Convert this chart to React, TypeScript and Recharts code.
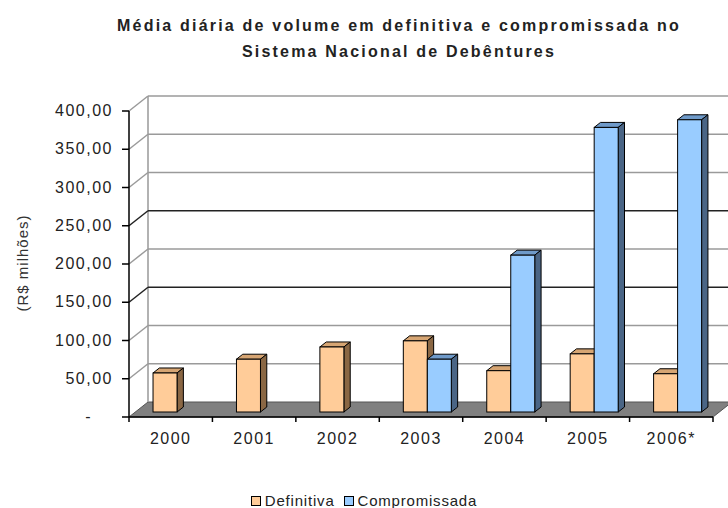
import React from 'react';
import { BarChart, Bar, XAxis, YAxis, CartesianGrid } from 'recharts';

const years = ['2000', '2001', '2002', '2003', '2004', '2005', '2006*'];
const definitiva = [51, 69, 85, 93, 54, 76, 50];
const compromissada = [null, null, null, 69, 205, 372, 382];
const yTicks = [0, 50, 100, 150, 200, 250, 300, 350, 400];
const darkLines = [150, 250];

const data = years.map((ano, i) => ({ ano, definitiva: definitiva[i], compromissada: compromissada[i] }));

// layout of the 3D box
const W = 728;
const H = 508;
const LEFT = 129;
const RIGHT = 713;
const TOP = 111;
const BOTTOM = 417;
const DX = 19; // wall depth
const DY = 15;
const BAND = (RIGHT - LEFT) / years.length;
const FONT = "'Liberation Sans', Arial, sans-serif";

const fmt = (v: number) => (v === 0 ? '-' : v.toFixed(2).replace('.', ','));

const colors = {
    definitiva: { front: '#FFCC99', top: '#D6A573', side: '#8A6744' },
    compromissada: { front: '#99CCFF', top: '#6F9AC9', side: '#4A6585' },
};

const Bar3D = (c: { front: string; top: string; side: string }) => (props: any) => {
    const { x, y, width, height } = props;
    if (height == null || isNaN(height)) return null;
    const d = DX / 3;
    const e = DY / 3;
    const x0 = x + d;
    const y0 = y - e;
    return (
        <g stroke="#000" strokeWidth={1}>
            <polygon points={`${x0},${y0} ${x0 + width},${y0} ${x0 + width + d},${y0 - e} ${x0 + d},${y0 - e}`} fill={c.top} />
            <polygon
                points={`${x0 + width},${y0} ${x0 + width + d},${y0 - e} ${x0 + width + d},${y0 + height - e} ${x0 + width},${y0 + height}`}
                fill={c.side}
            />
            <rect x={x0} y={y0} width={width} height={height} fill={c.front} />
        </g>
    );
};

const GridLine = (props: any) => {
    const { x1, x2, y1 } = props;
    const y = y1;
    if (Math.abs(y - BOTTOM) < 1) {
        // floor + left wall edge
        return (
            <g>
                <polygon points={`${x1},${y} ${x2},${y} ${x2 + DX},${y - DY} ${x1 + DX},${y - DY}`} fill="#808080" stroke="#555" strokeWidth={1} />
                <line x1={x1 + DX} y1={TOP - DY} x2={x1 + DX} y2={y - DY} stroke="#999" strokeWidth={1.5} />
            </g>
        );
    }
    const v = Math.round(((BOTTOM - y) / (BOTTOM - TOP)) * 400);
    const dark = darkLines.includes(v);
    const stroke = dark ? '#222' : '#9a9a9a';
    return (
        <g stroke={stroke} strokeWidth={1.5}>
            <line x1={x1} y1={y} x2={x1 + DX} y2={y - DY} />
            <line x1={x1 + DX} y1={y - DY} x2={x2 + DX} y2={y - DY} />
        </g>
    );
};

const YTick = (props: any) => {
    const { x, y, payload } = props;
    const v = payload.value;
    return (
        <text
            x={v === 0 ? x - 20 : x + 1}
            y={y}
            dy={5}
            textAnchor="end"
            fontSize={16}
            letterSpacing={1.5}
            fontFamily={FONT}
            fill="#222"
        >
            {fmt(v)}
        </text>
    );
};

const XTick = (props: any) => {
    const { x, y, payload } = props;
    const last = payload.value === years[years.length - 1];
    return (
        <g>
            <line x1={x - BAND / 2} y1={y} x2={x - BAND / 2} y2={y + 5} stroke="#000" strokeWidth={1.5} />
            {last && <line x1={x + BAND / 2} y1={y} x2={x + BAND / 2} y2={y + 5} stroke="#000" strokeWidth={1.5} />}
            <text x={x} y={y + 27} textAnchor="middle" fontSize={16} letterSpacing={1.5} fontFamily={FONT} fill="#222">
                {payload.value}
            </text>
        </g>
    );
};

export default function App() {
    return (
        <div style={{ position: 'absolute', left: 0, top: 0, width: W, height: H, background: '#fff', fontFamily: FONT }}>
            <div
                style={{
                    position: 'absolute',
                    left: 99,
                    width: 600,
                    top: 13,
                    textAlign: 'center',
                    fontSize: 16,
                    fontWeight: 'bold',
                    letterSpacing: 2.2,
                    lineHeight: '26px',
                    color: '#222',
                }}
            >
                Média diária de volume em definitiva e compromissada no
                <br />
                Sistema Nacional de Debêntures
            </div>
            <div
                style={{
                    position: 'absolute',
                    left: 22,
                    top: 263,
                    transform: 'translate(-50%, -50%) rotate(-90deg)',
                    fontSize: 15,
                    letterSpacing: 1,
                    color: '#333',
                    whiteSpace: 'nowrap',
                }}
            >
                (R$ milhões)
            </div>
            <BarChart
                width={W}
                height={H}
                data={data}
                margin={{ top: TOP, right: W - RIGHT, bottom: 0, left: 0 }}
                barCategoryGap={17.7}
                barGap={0}
            >
                <CartesianGrid vertical={false} horizontal={GridLine} />
                <XAxis
                    dataKey="ano"
                    height={H - BOTTOM}
                    tickLine={false}
                    tickSize={0}
                    tickMargin={0}
                    axisLine={{ stroke: '#000', strokeWidth: 1.5 }}
                    tick={XTick}
                    interval={0}
                />
                <YAxis
                    width={LEFT}
                    domain={[0, 400]}
                    ticks={yTicks}
                    tickSize={7}
                    tickMargin={10}
                    axisLine={{ stroke: '#000', strokeWidth: 1.5 }}
                    tickLine={{ stroke: '#000', strokeWidth: 1.5 }}
                    tick={YTick}
                    interval={0}
                />
                <Bar dataKey="definitiva" isAnimationActive={false} shape={Bar3D(colors.definitiva)} />
                <Bar dataKey="compromissada" isAnimationActive={false} shape={Bar3D(colors.compromissada)} />
            </BarChart>
            <div
                style={{
                    position: 'absolute',
                    left: 0,
                    width: W,
                    top: 492,
                    display: 'flex',
                    justifyContent: 'center',
                    alignItems: 'center',
                    fontSize: 15,
                    letterSpacing: 0.8,
                    color: '#222',
                }}
            >
                <span style={{ width: 8, height: 8, border: '1px solid #000', background: colors.definitiva.front, marginRight: 4 }} />
                <span style={{ marginRight: 9 }}>Definitiva</span>
                <span style={{ width: 8, height: 8, border: '1px solid #000', background: colors.compromissada.front, marginRight: 4 }} />
                <span>Compromissada</span>
            </div>
        </div>
    );
}
